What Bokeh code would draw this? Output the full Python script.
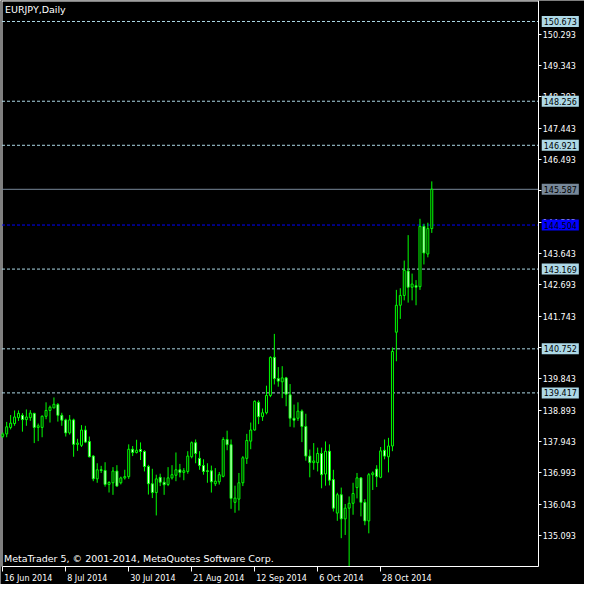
import numpy as np
from bokeh.plotting import figure
from bokeh.models import Range1d, FixedTicker, Label, PrintfTickFormatter, ColumnDataSource
from bokeh.embed import file_html
from bokeh.resources import INLINE

# ---- data (EURJPY daily, 16 Jun 2014 onwards, one bar per weekday) ----
opens = [138.10, 138.174, 138.370, 138.488, 138.666, 138.737, 138.607, 138.666, 138.796, 138.370,
         138.370, 138.708, 138.885, 138.962, 139.063, 138.737, 138.598, 138.204, 138.598, 137.857,
         137.827, 138.292, 137.945, 137.502, 136.812, 137.087, 137.067, 136.643, 136.693, 137.048,
         136.693, 136.840, 136.879, 137.709, 137.611, 137.700, 137.640, 137.186, 136.663, 136.396,
         136.858, 136.710, 136.643, 136.841, 136.921, 137.087, 137.007, 137.037, 137.481, 137.907,
         137.433, 137.214, 137.057, 137.057, 136.663, 136.722, 136.888, 138.005, 137.848, 136.100,
         136.198, 136.693, 137.433, 137.955, 138.292, 139.131, 138.696, 138.814, 139.339, 140.494,
         139.851, 139.753, 139.872, 139.359, 138.648, 138.648, 138.864, 138.399, 137.502, 137.304,
         137.304, 137.581, 136.958, 137.650, 136.790, 135.774, 136.331, 135.599, 135.923, 136.071,
         136.547, 136.841, 136.100, 135.537, 136.938, 137.108, 136.858, 137.679, 137.481, 137.807,
         141.256, 142.073, 142.370, 143.110, 142.619, 142.667, 142.636, 144.464, 143.626, 144.396]
highs = [138.22, 138.538, 138.746, 138.885, 138.885, 138.805, 138.915, 138.894, 138.814, 138.488,
         138.737, 139.131, 139.033, 139.279, 139.110, 138.814, 138.636, 138.746, 138.636, 138.026,
         138.441, 138.420, 138.094, 137.532, 137.285, 137.206, 137.315, 136.741, 137.167, 137.226,
         136.879, 137.087, 137.857, 137.807, 137.996, 137.916, 137.679, 137.235, 137.117, 136.938,
         136.968, 136.858, 137.167, 137.226, 137.611, 137.265, 137.137, 137.650, 137.946, 138.005,
         137.650, 137.404, 137.285, 137.214, 137.137, 137.019, 138.073, 138.272, 138.005, 136.605,
         136.990, 137.502, 138.175, 138.518, 139.190, 139.190, 138.944, 139.635, 140.524, 141.205,
         140.198, 140.227, 139.901, 139.685, 139.063, 139.131, 138.915, 138.785, 137.700, 137.896,
         137.759, 137.759, 137.946, 137.857, 137.087, 136.390, 136.547, 136.050, 136.278, 136.693,
         136.990, 136.858, 136.198, 136.990, 137.037, 137.226, 137.777, 138.005, 138.055, 140.790,
         142.539, 142.589, 143.427, 144.198, 143.033, 142.835, 144.693, 144.544, 144.574, 145.827]
lows = [138.05, 138.073, 138.310, 138.420, 138.568, 138.242, 138.420, 138.568, 137.896, 137.954,
        138.073, 138.619, 138.518, 138.950, 138.547, 138.420, 138.094, 138.153, 137.481, 137.660,
        137.777, 137.896, 137.463, 136.741, 136.693, 136.990, 136.575, 136.398, 136.327, 136.570,
        136.643, 136.790, 136.812, 137.502, 137.581, 137.383, 137.037, 136.336, 136.229, 135.703,
        136.592, 136.327, 136.592, 136.790, 136.741, 136.858, 136.770, 136.968, 137.433, 137.285,
        137.087, 136.938, 136.693, 136.396, 136.592, 136.639, 136.858, 137.679, 135.902, 135.784,
        135.852, 136.592, 137.264, 137.709, 138.272, 138.470, 138.568, 138.767, 139.288, 139.673,
        139.605, 139.258, 139.013, 138.390, 138.370, 138.568, 137.925, 137.363, 136.859, 137.087,
        137.037, 136.526, 136.605, 136.614, 135.822, 135.540, 135.014, 135.111, 134.160, 135.724,
        136.219, 135.674, 135.407, 135.161, 136.474, 136.563, 136.831, 137.404, 137.007, 137.650,
        140.376, 141.659, 142.221, 142.153, 142.221, 142.073, 142.539, 143.309, 143.525, 144.266]
closes = [138.17, 138.390, 138.500, 138.687, 138.796, 138.607, 138.687, 138.805, 138.370, 138.420,
          138.708, 138.885, 138.983, 139.072, 138.737, 138.589, 138.204, 138.598, 137.857, 137.896,
          138.292, 137.925, 137.481, 136.812, 137.087, 137.067, 136.643, 136.702, 137.048, 136.592,
          136.840, 136.879, 137.709, 137.611, 137.679, 137.640, 137.186, 136.663, 136.396, 136.811,
          136.710, 136.633, 136.841, 136.938, 137.087, 137.007, 137.057, 137.502, 137.907, 137.581,
          137.214, 137.037, 137.037, 136.722, 136.741, 136.938, 138.005, 137.848, 136.219, 136.228,
          136.693, 137.451, 137.976, 138.292, 139.161, 138.696, 138.814, 139.338, 140.494, 139.851,
          139.774, 139.872, 139.377, 138.648, 138.589, 138.864, 138.399, 137.502, 137.304, 137.354,
          137.581, 136.938, 137.650, 136.770, 135.923, 136.331, 135.599, 135.923, 136.071, 136.367,
          136.841, 136.100, 135.537, 136.938, 136.990, 136.879, 137.659, 137.502, 137.807, 140.672,
          142.073, 142.370, 143.131, 142.619, 142.716, 142.619, 144.464, 143.656, 144.396, 145.587]

price_ticks = [135.093, 136.043, 136.993, 137.943, 138.893, 139.843, 140.793, 141.743, 142.693,
               143.643, 144.593, 145.543, 146.493, 147.443, 148.393, 149.343, 150.293]
date_ticks = [0, 16, 32, 48, 64, 80, 96]
date_labels = ["16 Jun 2014", "8 Jul 2014", "30 Jul 2014", "21 Aug 2014",
               "12 Sep 2014", "6 Oct 2014", "28 Oct 2014"]
level_lines = [150.673, 148.256, 146.921, 143.169, 140.752, 139.417]
bid_price = 145.587
blue_line = 144.504

# ---- view / styling ----
FONT = "DejaVu Sans"
LIME = "#00ff00"
LEVEL_COLOR = "#add8e6"
BID_COLOR = "#778899"
W = H = 584
x0, x1 = -0.575, 147.8          # visible index range across the canvas
y0, y1 = 133.61, 151.309        # visible price range across the canvas
x_axis_pos = 136.175            # index where the price scale sits
y_axis_pos = 134.153            # price where the time scale sits
ppu_x = W / (x1 - x0)
ppu_y = H / (y1 - y0)

idx = np.arange(len(opens))
o = np.array(opens); c = np.array(closes)
bull = c >= o

p = figure(width=W, height=H, output_backend="svg", toolbar_location=None,
           x_range=Range1d(x0, x1), y_range=Range1d(y0, y1),
           y_axis_location="right", min_border=0,
           min_border_left=0, min_border_right=0, min_border_top=0, min_border_bottom=0)
p.background_fill_color = "black"
p.border_fill_color = "black"
p.outline_line_color = None
p.grid.visible = False

# chart frame (left and top edges)
left_edge = x0 + 1.5 / ppu_x
top_edge = y1 - 0.5 / ppu_y
p.segment(x0=[left_edge, left_edge], y0=[y_axis_pos, top_edge],
          x1=[left_edge, x_axis_pos], y1=[top_edge, top_edge], line_color="white", line_width=1)

# level lines
n_lv = len(level_lines)
p.segment(x0=[left_edge] * n_lv, x1=[x_axis_pos] * n_lv, y0=level_lines, y1=level_lines,
          line_color=LEVEL_COLOR, line_dash="3 2", line_width=1)
p.segment(x0=[left_edge], x1=[x_axis_pos], y0=[blue_line], y1=[blue_line],
          line_color="#0000ff", line_dash="3 2", line_width=1)
p.segment(x0=[left_edge], x1=[x_axis_pos], y0=[bid_price], y1=[bid_price],
          line_color=BID_COLOR, line_width=1)

# candles
src = ColumnDataSource(dict(x=idx, o=o, h=np.array(highs), l=np.array(lows), c=c))
p.segment(x0="x", y0="l", x1="x", y1="h", source=src, line_color=LIME, line_width=1)
bsrc = ColumnDataSource(dict(x=idx[bull], top=c[bull], bottom=o[bull]))
rsrc = ColumnDataSource(dict(x=idx[~bull], top=o[~bull], bottom=c[~bull]))
p.vbar(x="x", width=0.5, top="top", bottom="bottom", source=bsrc,
       fill_color="black", line_color=LIME, line_width=1)
p.vbar(x="x", width=0.5, top="top", bottom="bottom", source=rsrc,
       fill_color="white", line_color=LIME, line_width=1)

# right price axis, sitting inside the canvas
ya = p.yaxis[0]
ya.fixed_location = x_axis_pos
ya.bounds = (y_axis_pos, y1)
ya.ticker = FixedTicker(ticks=price_ticks)
ya.formatter = PrintfTickFormatter(format="%.3f")
ya.axis_line_color = "white"
ya.axis_line_width = 1
ya.major_tick_line_color = "white"
ya.major_tick_out = 3
ya.major_tick_in = 0
ya.minor_tick_line_color = None
ya.major_label_standoff = 1
ya.major_label_text_color = "white"
ya.major_label_text_font = FONT
ya.major_label_text_font_size = "8px"

# bottom date axis: tick marks as minor ticks, left-aligned labels as shifted major ticks
w = {" ": 318, "0": 636, "1": 636, "2": 636, "3": 636, "4": 636, "5": 636, "6": 636,
     "7": 636, "8": 636, "9": 636, "J": 295, "u": 634, "n": 634, "l": 278, "A": 684,
     "g": 635, "S": 635, "e": 615, "p": 635, "O": 787, "c": 550, "t": 392}
label_pos = []
for t, lab in zip(date_ticks, date_labels):
    wpx = sum(w.get(ch, 600) for ch in lab) * 8 / 1000.0
    label_pos.append(t + (wpx / 2 + 1.5) / ppu_x)
xa = p.xaxis[0]
xa.fixed_location = y_axis_pos
xa.bounds = (left_edge, x_axis_pos)
xa.ticker = FixedTicker(ticks=label_pos, minor_ticks=date_ticks)
xa.major_label_overrides = {lp: lab for lp, lab in zip(label_pos, date_labels)}
xa.axis_line_color = "white"
xa.major_tick_line_color = None
xa.major_tick_out = 0
xa.major_tick_in = 0
xa.minor_tick_line_color = "white"
xa.minor_tick_out = 5
xa.minor_tick_in = 0
xa.major_label_standoff = 2
xa.major_label_text_color = "white"
xa.major_label_text_font = FONT
xa.major_label_text_font_size = "8px"

# price boxes on the axis
box_x = x_axis_pos + 3 / ppu_x
for lv, col in [(v, LEVEL_COLOR) for v in level_lines] + [(bid_price, BID_COLOR), (blue_line, "#0000ff")]:
    p.add_layout(Label(x=box_x, y=lv, text=f"{lv:.3f}", text_baseline="middle", text_align="left",
                       text_color="black", text_font=FONT, text_font_size="8px",
                       background_fill_color=col, padding=2))

# texts
p.add_layout(Label(x=left_edge, y=top_edge, x_offset=3, y_offset=-3, text="EURJPY,Daily",
                   text_baseline="top", text_color="white", text_font=FONT,
                   text_font_size="9.5px"))
p.add_layout(Label(x=left_edge, y=y_axis_pos, x_offset=2, y_offset=3,
                   text="MetaTrader 5, \u00a9 2001-2014, MetaQuotes Software Corp.",
                   text_baseline="bottom", text_color="white", text_font=FONT,
                   text_font_size="9.5px"))

open("out.html", "w").write(file_html(p, INLINE))
